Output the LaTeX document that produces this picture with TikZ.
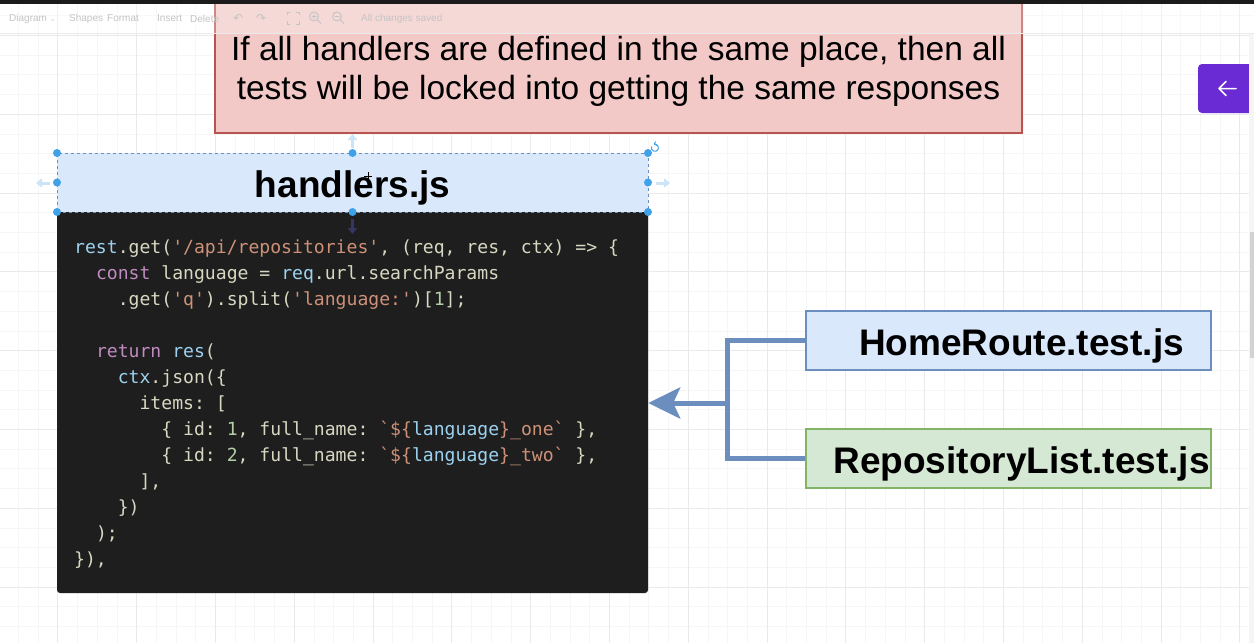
\documentclass[tikz,border=0pt]{standalone}
\usepackage{fontspec}
\setmainfont{Liberation Sans}
\setmonofont{DejaVu Sans Mono}
\newfontfamily\dejavu{DejaVu Sans}
\usetikzlibrary{arrows.meta}
\definecolor{gridminor}{HTML}{F6F6F6}
\definecolor{gridmajor}{HTML}{EAEAEA}
\definecolor{redfill}{HTML}{F2C9C7}
\definecolor{redline}{HTML}{B85450}
\definecolor{bluefill}{HTML}{DAE8FC}
\definecolor{blueline}{HTML}{6C8EBF}
\definecolor{greenfill}{HTML}{D5E8D4}
\definecolor{greenline}{HTML}{82B366}
\definecolor{codebg}{HTML}{1E1E1E}
\definecolor{cfg}{HTML}{D8D8C2}
\definecolor{cblue}{HTML}{9CD2F0}
\definecolor{corange}{HTML}{CE9178}
\definecolor{cpurple}{HTML}{C08BC0}
\definecolor{cnum}{HTML}{B5CEA8}
\definecolor{handle}{HTML}{3FA2E8}
\definecolor{hover}{HTML}{CCE4F7}
\definecolor{purplebtn}{HTML}{6A2BD4}
\definecolor{tbtext}{HTML}{C4C4C4}
\definecolor{topbar}{HTML}{1B1B1B}
\newcommand\cB[1]{\textcolor{cblue}{#1}}
\newcommand\cO[1]{\textcolor{corange}{#1}}
\newcommand\cP[1]{\textcolor{cpurple}{#1}}
\newcommand\cN[1]{\textcolor{cnum}{#1}}
\tikzset{
  codeline/.style={anchor=base west, inner sep=0pt, text=cfg, font=\ttfamily\fontsize{18.1}{26}\selectfont},
  titlebox/.style={draw=blueline, line width=1.2pt, inner sep=0pt, minimum height=59pt, minimum width=405pt},
  titletext/.style={inner sep=0pt, font=\bfseries\fontsize{37}{40}\selectfont},
  notetext/.style={anchor=base, inner sep=0pt, font=\fontsize{33.5}{39}\selectfont},
  tbitem/.style={anchor=west, inner sep=0pt, text=tbtext, font=\fontsize{10}{12}\selectfont},
  selhandle/.style={circle, fill=handle, inner sep=0pt, minimum size=8pt},
  link/.style={draw=blueline, line width=5pt},
  hoverarrow/.style={draw=hover, line width=3pt, -{Triangle[length=6pt,width=9pt]}},
}
\begin{document}
\begin{tikzpicture}[x=1pt,y=-1pt]
\useasboundingbox (0,0) rectangle (1254,643);
\fill[white] (0,0) rectangle (1254,643);
% grid
\foreach \i in {0,...,63} \draw[gridminor, line width=0.8pt] ({18.4+\i*19.7},0) -- ++(0,643);
\foreach \i in {0,...,32} \draw[gridminor, line width=0.8pt] (0,{15.7+\i*19.7}) -- ++(1254,0);
\foreach \i in {0,...,15} \draw[gridmajor, line width=0.8pt] ({57.8+\i*78.8},0) -- ++(0,643);
\foreach \i in {0,...,8} \draw[gridmajor, line width=0.8pt] (0,{35.4+\i*78.8}) -- ++(1254,0);

% note box
\node[draw=redline, fill=redfill, line width=1.2pt, minimum width=807pt, minimum height=143pt, inner sep=0pt] (note) at (618.5,61.5) {};
\node[notetext] (t1) at (618.5,60) {If all handlers are defined in the same place, then all};
\node[notetext] (t2) at (618.5,99) {tests will be locked into getting the same responses};

% toolbar overlay
\fill[white, opacity=0.3] (0,4) rectangle (1254,33);
\draw[gridmajor, line width=0.8pt] (0,33) -- (1254,33);
\fill[topbar] (0,0) rectangle (1254,4);
\node[tbitem] (tb1) at (9,18.5) {Diagram {\dejavu\fontsize{7}{8}\selectfont ⌄}};
\node[tbitem] (tb2) at (69,18.5) {Shapes};
\node[tbitem] (tb3) at (107,18.5) {Format};
\node[tbitem] (tb4) at (157,18.5) {Insert};
\node[tbitem] (tb5) at (190,18.5) {Delete};
\node[tbitem, font=\dejavu\fontsize{12}{12}\selectfont] (tb6) at (233,18.5) {↶};
\node[tbitem, font=\dejavu\fontsize{12}{12}\selectfont] (tb7) at (256,18.5) {↷};
\node[tbitem] (tb9) at (361,18.5) {All changes saved};
\draw[tbtext, line width=0.9pt] (287,15) -- (287,12) -- (290,12) (296,12) -- (299,12) -- (299,15) (299,21) -- (299,24) -- (296,24) (290,24) -- (287,24) -- (287,21);
\draw[tbtext, line width=0.9pt] (314,16.5) circle (4.5) (317.5,20) -- (321,23.5) (311.5,16.5) -- (316.5,16.5) (314,14) -- (314,19);
\draw[tbtext, line width=0.9pt] (337,16.5) circle (4.5) (340.5,20) -- (344,23.5) (334.5,16.5) -- (339.5,16.5);

% code block
\node[fill=codebg, rounded corners=3pt, minimum width=591pt, minimum height=381pt, inner sep=0pt] (code) at (352.5,402.5) {};
\node[codeline] (c1) at (74,253) {\cB{rest}.get(\cO{'/api/repositories'}, (req, res, ctx) => \{};
\node[codeline] (c2) at (95.8,279) {\cP{const} language = \cB{req}.url.searchParams};
\node[codeline] (c3) at (117.6,305) {.get(\cO{'q'}).split(\cO{'language:'})[\cN{1}];};
\node[codeline] (c5) at (95.8,357) {\cP{return} \cB{res}(};
\node[codeline] (c6) at (117.6,383) {\cB{ctx}.json(\{};
\node[codeline] (c7) at (139.4,409) {items: [};
\node[codeline] (c8) at (161.2,435) {\{ id: \cN{1}, full\_name: \cO{`\$\{}\cB{language}\cO{\}\_one`} \},};
\node[codeline] (c9) at (161.2,461) {\{ id: \cN{2}, full\_name: \cO{`\$\{}\cB{language}\cO{\}\_two`} \},};
\node[codeline] (c10) at (139.4,487) {],};
\node[codeline] (c11) at (117.6,513) {\})};
\node[codeline] (c12) at (95.8,539) {);};
\node[codeline] (c13) at (74,565) {\}),};

% handlers.js box (selected)
\node[titlebox, fill=bluefill, draw=blueline, dashed, line width=0.9pt, minimum width=591pt] (handlers) at (352.5,182.5) {};
\node[titletext] (handlerstext) at ([yshift=-5pt]handlers.center) {handlers.js};
\foreach \p in {(57,153),(352.5,153),(648,153),(57,182.5),(648,182.5),(57,212),(352.5,212),(648,212)}
  \node[selhandle] at \p {};
\draw[hoverarrow] (50,183) -- (36,183);
\draw[hoverarrow] (656,183) -- (670,183);
\draw[hoverarrow] (352.5,148) -- (352.5,134);
\draw[draw=gray!70!blue!60!black, line width=3pt, -{Triangle[length=6pt,width=9pt]}] (352.5,219) -- (352.5,234);
\draw[handle, line width=1pt, -{Straight Barb[length=2pt]}] (651.5,146.5) arc[start angle=200, end angle=-110, radius=3.6];
\draw[black, line width=0.8pt] (364,176) -- (372,176) (368,172) -- (368,180);

% test files
\node[titlebox, fill=bluefill] (home) at (1008.5,340.5) {};
\node[titletext] (hometext) at ([xshift=13pt,yshift=-5pt]home.center) {HomeRoute.test.js};
\node[titlebox, fill=greenfill, draw=greenline] (repo) at (1008.5,458.5) {};
\node[titletext] (repotext) at ([xshift=13pt,yshift=-5pt]repo.center) {RepositoryList.test.js};

% connectors
\coordinate (junc) at (727,403);
\draw[link] (home.west) -| (junc) |- (repo.west);
\draw[link, -{Stealth[length=32pt,width=31pt,inset=7pt]}] (junc) -- (code.east |- junc);

% purple button
\node[fill=purplebtn, rounded corners=4pt, minimum width=64pt, minimum height=49pt, inner sep=0pt] (btn) at (1230,88.5) {};
\draw[white, line width=1.5pt, line cap=round, line join=round] (1236,88.5) -- (1219,88.5) (1226,81.5) -- (1219,88.5) -- (1226,95.5);

% scrollbar
\fill[gray!8] (1249,34) rectangle (1254,643);
\fill[gray!35] (1250,232) rectangle (1254,358);
\end{tikzpicture}
\end{document}
